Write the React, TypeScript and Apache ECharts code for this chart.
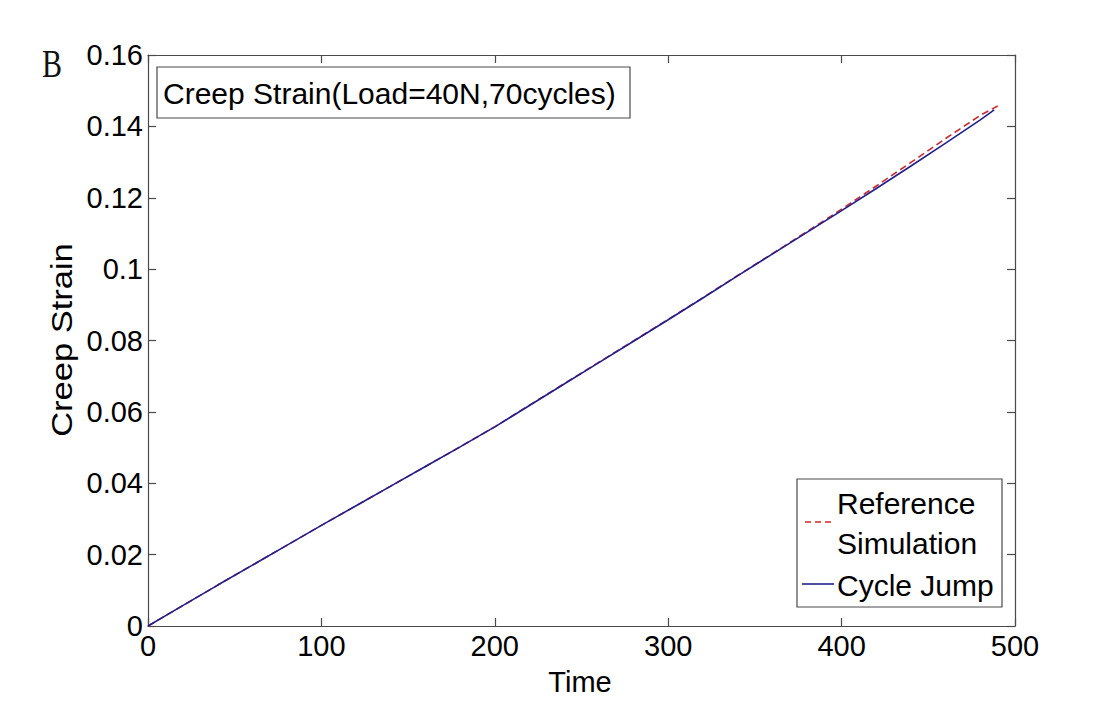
import React, { useEffect, useRef } from "react";
import * as echarts from "echarts";

const timeBlue = [0, 20, 40, 60, 80, 100, 120, 140, 160, 180, 200, 220, 240, 260, 280, 300, 320, 340, 360, 380, 400, 420, 440, 460, 480, 488];
const strainBlue = [0, 0.0057, 0.0114, 0.017, 0.0226, 0.0282, 0.0337, 0.0392, 0.0447, 0.0502, 0.0558, 0.0618, 0.0678, 0.0738, 0.0798, 0.0858, 0.0919, 0.0981, 0.1042, 0.1103, 0.1164, 0.1226, 0.1289, 0.1353, 0.1418, 0.1446];
const timeRed = [0, 20, 40, 60, 80, 100, 120, 140, 160, 180, 200, 220, 240, 260, 280, 300, 320, 340, 360, 380, 400, 420, 440, 460, 480, 490];
const strainRed = [0, 0.0057, 0.0114, 0.017, 0.0226, 0.0282, 0.0337, 0.0392, 0.0447, 0.0502, 0.0558, 0.0619, 0.0679, 0.0739, 0.0799, 0.0859, 0.092, 0.0982, 0.1043, 0.1105, 0.1168, 0.1233, 0.1299, 0.1366, 0.1431, 0.1457];

const xTicks = { min: 0, max: 500, step: 100 };
const yTicks = { min: 0, max: 0.16, step: 0.02 };

const titleText = "Creep Strain(Load=40N,70cycles)";
const legendNames = ["Reference\nSimulation", "Cycle Jump"];
const xName = "Time";
const yName = "Creep Strain";
const panelLabel = "B";

const FONT = "Liberation Sans, Arial, sans-serif";
const AXIS_COLOR = "#4a4a4a";
const RED = "#cc2a2a";
const BLUE = "#1f1f8f";

export default function App() {
  const ref = useRef<HTMLDivElement>(null);
  useEffect(() => {
    document.body.style.margin = "0";
    const chart = echarts.init(ref.current!, null, { renderer: "svg" });
    const fmt = (v: number) => String(parseFloat(v.toFixed(2)));
    const axisCommon = {
      axisLine: { show: true, onZero: false, lineStyle: { color: AXIS_COLOR, width: 1.2 } },
      axisTick: { show: true, inside: true, length: 8, lineStyle: { color: AXIS_COLOR, width: 1.2 } },
      splitLine: { show: false },
    };
    chart.setOption({
      animation: false,
      backgroundColor: "#ffffff",
      grid: { left: 148, right: 105, top: 55, bottom: 78, containLabel: false },
      xAxis: [
        {
          type: "value", min: xTicks.min, max: xTicks.max, interval: xTicks.step, position: "bottom",
          ...axisCommon,
          axisLabel: { color: "#000", fontSize: 29, fontFamily: FONT, margin: 5 },
        },
        {
          type: "value", min: xTicks.min, max: xTicks.max, interval: xTicks.step, position: "top",
          ...axisCommon,
          axisLabel: { show: false },
        },
      ],
      yAxis: [
        {
          type: "value", min: yTicks.min, max: yTicks.max, interval: yTicks.step, position: "left",
          ...axisCommon,
          axisLabel: { color: "#000", fontSize: 29, fontFamily: FONT, margin: 5, formatter: fmt },
        },
        {
          type: "value", min: yTicks.min, max: yTicks.max, interval: yTicks.step, position: "right",
          ...axisCommon,
          axisLabel: { show: false },
        },
      ],
      series: [
        {
          name: legendNames[0], type: "line", xAxisIndex: 0, yAxisIndex: 0,
          data: timeRed.map((t, i) => [t, strainRed[i]]),
          showSymbol: false, symbol: "none",
          lineStyle: { color: RED, width: 1.6, type: [7, 4] },
          z: 3,
        },
        {
          name: legendNames[1], type: "line", xAxisIndex: 0, yAxisIndex: 0,
          data: timeBlue.map((t, i) => [t, strainBlue[i]]),
          showSymbol: false, symbol: "none",
          lineStyle: { color: BLUE, width: 1.6 },
          z: 4,
        },
      ],
      graphic: [
        {
          type: "text", x: 52, y: 64, scaleY: 1.3,
          style: { text: panelLabel, fontSize: 30, fontFamily: "Liberation Serif, Times New Roman, serif", fill: "#111", align: "center", verticalAlign: "middle" },
        },
        {
          type: "rect", shape: { x: 157, y: 67, width: 473, height: 51 },
          style: { fill: "#fff", stroke: AXIS_COLOR, lineWidth: 1.2 }, z: 10,
        },
        {
          type: "text", x: 163, y: 93, z: 11,
          style: { text: titleText, fontSize: 30, fontFamily: FONT, fill: "#000", verticalAlign: "middle", align: "left" },
        },
        {
          type: "rect", shape: { x: 797, y: 479, width: 205, height: 128 },
          style: { fill: "#fff", stroke: AXIS_COLOR, lineWidth: 1.2 }, z: 10,
        },
        {
          type: "line", shape: { x1: 805, y1: 522, x2: 834, y2: 522 }, z: 11,
          style: { stroke: RED, lineWidth: 1.6, lineDash: [6, 4] },
        },
        {
          type: "text", x: 837, y: 503, z: 11,
          style: { text: "Reference", fontSize: 30, fontFamily: FONT, fill: "#000", verticalAlign: "middle" },
        },
        {
          type: "text", x: 837, y: 543, z: 11,
          style: { text: "Simulation", fontSize: 30, fontFamily: FONT, fill: "#000", verticalAlign: "middle" },
        },
        {
          type: "line", shape: { x1: 802, y1: 584, x2: 834, y2: 584 }, z: 11,
          style: { stroke: BLUE, lineWidth: 1.6 },
        },
        {
          type: "text", x: 837, y: 585, z: 11,
          style: { text: legendNames[1], fontSize: 30, fontFamily: FONT, fill: "#000", verticalAlign: "middle" },
        },
        {
          type: "text", x: 580, y: 682,
          style: { text: xName, fontSize: 29, fontFamily: FONT, fill: "#000", align: "center", verticalAlign: "middle" },
        },
        {
          type: "text", x: 62, y: 340, rotation: Math.PI / 2, scaleX: 1.15,
          style: { text: yName, fontSize: 30, fontFamily: FONT, fill: "#000", align: "center", verticalAlign: "middle" },
        },
      ],
    });
    return () => chart.dispose();
  }, []);
  return <div ref={ref} style={{ position: "fixed", left: 0, top: 0, width: 1120, height: 704, background: "#fff" }} />;
}
